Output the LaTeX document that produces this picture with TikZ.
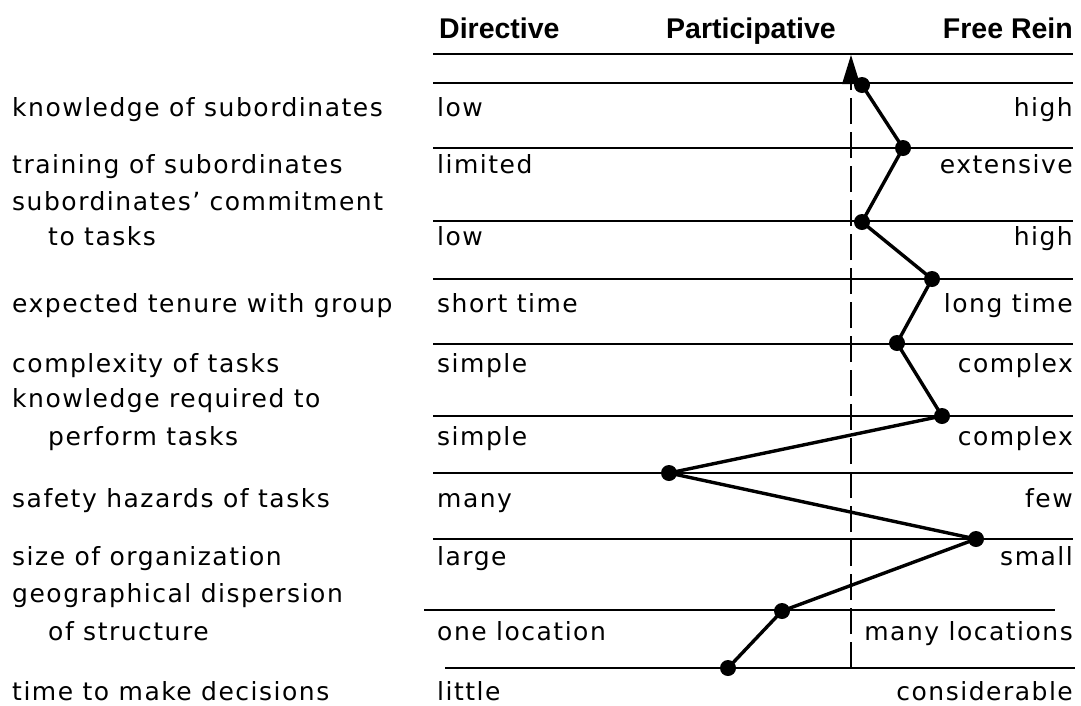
\documentclass[tikz,border=0pt]{standalone}
\usepackage{fontspec}
\setmainfont{DejaVu Sans}[LetterSpace=6]
\newfontfamily\headfont{Liberation Sans}[BoldFont={Liberation Sans Bold}]
\begin{document}
\begin{tikzpicture}[x=1pt,y=-1pt,
  rule/.style={line width=1.6pt},
  guide/.style={line width=1.8pt, dash pattern=on 26pt off 8pt},
  dot/.style={circle, fill=black, inner sep=0pt, minimum size=16pt},
  profile/.style={line width=3.4pt, line join=round},
  head/.style={inner sep=0pt, font=\headfont\bfseries\fontsize{28.5}{32}\selectfont},
  lbl/.style={anchor=base west, inner sep=0pt, font=\fontsize{25}{30}\selectfont},
  rlbl/.style={anchor=base east, inner sep=0pt, font=\fontsize{25}{30}\selectfont}]
\useasboundingbox (0,0) rectangle (1081,705);

% column headings
\node[head, anchor=base west] (hdir) at (439,38) {Directive};
\node[head, anchor=base west] (hpar) at (666,38) {Participative};
\node[head, anchor=base east] (hfree) at (1073,38) {Free Rein};

% scale rules
\foreach \y in {54,83,148,221,279,344,416,473,539}
  \draw[rule] (433,\y) -- (1073,\y);
\draw[rule] (424,610) -- (1055,610);
\draw[rule] (445,668) -- (1075,668);

% participative midline with arrowhead
\coordinate (mtop) at (851,83);
\coordinate (mbot) at (851,668);
\draw[guide] (mbot) -- (mtop);
\fill (842,84) -- (851,55) -- (860,84) -- cycle;

% factor names
\node[lbl] (f1) at (12,116) {knowledge of subordinates};
\node[lbl] (f2) at (12,173) {training of subordinates};
\node[lbl] (f3) at (12,210) {subordinates’ commitment};
\node[lbl] (f3b) at (48,245) {to tasks};
\node[lbl] (f4) at (12,312) {expected tenure with group};
\node[lbl] (f5) at (12,372) {complexity of tasks};
\node[lbl] (f6) at (12,407) {knowledge required to};
\node[lbl] (f6b) at (48,445) {perform tasks};
\node[lbl] (f7) at (12,507) {safety hazards of tasks};
\node[lbl] (f8) at (12,565) {size of organization};
\node[lbl] (f9) at (12,602) {geographical dispersion};
\node[lbl] (f9b) at (48,640) {of structure};
\node[lbl] (f10) at (12,700) {time to make decisions};

% low ends
\node[lbl] (l1) at (437,116) {low};
\node[lbl] (l2) at (437,173) {limited};
\node[lbl] (l3) at (437,245) {low};
\node[lbl] (l4) at (437,312) {short time};
\node[lbl] (l5) at (437,372) {simple};
\node[lbl] (l6) at (437,445) {simple};
\node[lbl] (l7) at (437,507) {many};
\node[lbl] (l8) at (437,565) {large};
\node[lbl] (l9) at (437,640) {one location};
\node[lbl] (l10) at (437,700) {little};

% high ends
\node[rlbl] (r1) at (1073,116) {high};
\node[rlbl] (r2) at (1073,173) {extensive};
\node[rlbl] (r3) at (1073,245) {high};
\node[rlbl] (r4) at (1073,312) {long time};
\node[rlbl] (r5) at (1073,372) {complex};
\node[rlbl] (r6) at (1073,445) {complex};
\node[rlbl] (r7) at (1073,507) {few};
\node[rlbl] (r8) at (1073,565) {small};
\node[rlbl] (r9) at (1073,640) {many locations};
\node[rlbl] (r10) at (1073,700) {considerable};

% profile points
\node[dot] (p1) at (862,85) {};
\node[dot] (p2) at (903,148) {};
\node[dot] (p3) at (862,222) {};
\node[dot] (p4) at (932,279) {};
\node[dot] (p5) at (897,343) {};
\node[dot] (p6) at (942,416) {};
\node[dot] (p7) at (669,473) {};
\node[dot] (p8) at (976,539) {};
\node[dot] (p9) at (782,611) {};
\node[dot] (p10) at (728,668) {};

\draw[profile] (p1.center) -- (p2.center) -- (p3.center) -- (p4.center)
  -- (p5.center) -- (p6.center) -- (p7.center) -- (p8.center)
  -- (p9.center) -- (p10.center);
\end{tikzpicture}
\end{document}
